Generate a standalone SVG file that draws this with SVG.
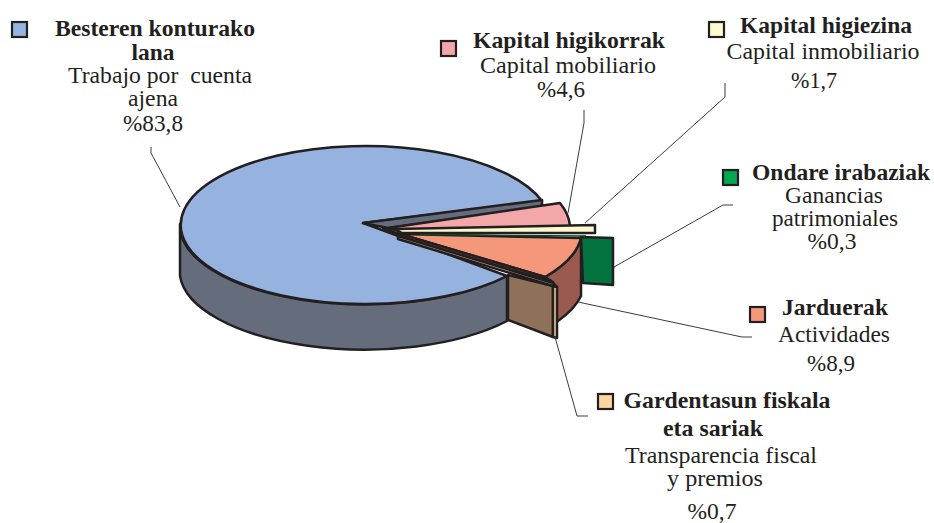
<svg xmlns="http://www.w3.org/2000/svg" width="934" height="523" viewBox="0 0 934 523">
<style>
.o{stroke:#231f20;stroke-width:2.5;stroke-linejoin:round}
.sq{stroke:#231f20;stroke-width:2.2}
.ld{fill:none;stroke:#3c3c3c;stroke-width:1}
text{font-family:"Liberation Serif","Times New Roman",serif;font-size:23px;fill:#231f20;text-anchor:middle}
.b{font-weight:bold}
</style>
<rect width="934" height="523" fill="#ffffff"/>
<g id="pie">
  <path id="blue-side" class="o" fill="#656d7c" d="M180 224 A185 79 0 0 0 507 276 L507 321 A185 79 0 0 1 180 276 Z"/>
  <path id="blue-top" class="o" fill="#95b3de" d="M363 223 L542 201 A185 79 0 1 0 507 276 Z"/>
  <path id="blue-cut" class="o" fill="#656d7c" d="M363 223 L542 200 L542 207 L388 228 Z"/>
  <path id="apex-bit" class="o" fill="#9a5a50" stroke-width="1.5" d="M383 228 L398 229 L398 234 Z"/>
  <path id="pink-top" class="o" fill="#f4a7a9" d="M388 228 L560 203 A185 79 0 0 1 570 226 L400 231 Z"/>
  <path id="salmon-side" class="o" fill="#9a5a50" d="M581 238 A185 79 0 0 1 545 277 L545 330 L558 321 A185 79 0 0 0 581 296 Z"/>
  <path id="salmon-top" class="o" fill="#f4977a" d="M400 234 L581 238 A185 79 0 0 1 545 277 Z"/>
  <path id="salmon-dark" class="o" fill="#7a4a40" stroke-width="1.5" d="M400 234 L545 277 L553 282 L398 237 Z"/>
  <path id="green-side" class="o" fill="#02723f" d="M581 237 L613 238 L613 285 L583 283 Z"/>
  <path id="cream-top" class="o" fill="#fdf9cf" d="M395 229 L595 225 L595 233 L402 233 Z"/>
  <line x1="420" y1="234.5" x2="586" y2="236" stroke="#0a4a2a" stroke-width="1.3"/>
  <path id="brown-side" class="o" fill="#8f7059" d="M508 275 L553 286 L553 337 L508 320 Z"/>
  <path id="brown-edge" class="o" fill="#f6cf9b" stroke-width="2" d="M553 286 L557 287 L557 338 L553 337 Z"/>
  <path id="brown-top" class="o" fill="#f6cf9b" stroke-width="1.6" d="M398 236 L553 283 L557 287 L553 286 L398 239 Z"/>
</g>
<g id="connectors">
  <polyline class="ld" points="151,147 151,153 180,207"/>
  <polyline class="ld" points="584,110 584,123 568,213"/>
  <polyline class="ld" points="725,83 725,97 585,223"/>
  <polyline class="ld" points="733,205 723,205 614,267"/>
  <polyline class="ld" points="578,302 742,337 752,337"/>
  <polyline class="ld" points="555,337 577,416 588,416"/>
</g>
<g id="label-besteren">
  <rect class="sq" x="12" y="22" width="15" height="15" fill="#95b3de"/>
  <text class="b" x="155" y="36" textLength="200" lengthAdjust="spacingAndGlyphs">Besteren konturako</text>
  <text class="b" x="153" y="60" textLength="43" lengthAdjust="spacingAndGlyphs">lana</text>
  <text x="160" y="83" textLength="184" lengthAdjust="spacingAndGlyphs" style="white-space:pre">Trabajo por  cuenta</text>
  <text x="153" y="106" textLength="50" lengthAdjust="spacingAndGlyphs">ajena</text>
  <text x="153" y="131" textLength="60" lengthAdjust="spacingAndGlyphs">%83,8</text>
</g>
<g id="label-higikorrak">
  <rect class="sq" x="441" y="41" width="15" height="15" fill="#f4a7a9"/>
  <text class="b" x="569" y="48" textLength="192" lengthAdjust="spacingAndGlyphs">Kapital higikorrak</text>
  <text x="568" y="73" textLength="176" lengthAdjust="spacingAndGlyphs">Capital mobiliario</text>
  <text x="561" y="97" textLength="48" lengthAdjust="spacingAndGlyphs">%4,6</text>
</g>
<g id="label-higiezina">
  <rect class="sq" x="709" y="22" width="15" height="15" fill="#fdf9cf"/>
  <text class="b" x="826" y="33" textLength="172" lengthAdjust="spacingAndGlyphs">Kapital higiezina</text>
  <text x="823" y="59" textLength="193" lengthAdjust="spacingAndGlyphs">Capital inmobiliario</text>
  <text x="814" y="88" textLength="46" lengthAdjust="spacingAndGlyphs">%1,7</text>
</g>
<g id="label-ondare">
  <rect class="sq" x="723" y="170" width="15" height="15" fill="#00a651"/>
  <text class="b" x="841" y="180" textLength="178" lengthAdjust="spacingAndGlyphs">Ondare irabaziak</text>
  <text x="834" y="203" textLength="98" lengthAdjust="spacingAndGlyphs">Ganancias</text>
  <text x="835" y="226" textLength="126" lengthAdjust="spacingAndGlyphs">patrimoniales</text>
  <text x="832" y="249" textLength="49" lengthAdjust="spacingAndGlyphs">%0,3</text>
</g>
<g id="label-jarduerak">
  <rect class="sq" x="750" y="307" width="15" height="15" fill="#f4977a"/>
  <text class="b" x="835" y="315" textLength="106" lengthAdjust="spacingAndGlyphs">Jarduerak</text>
  <text x="834" y="342" textLength="112" lengthAdjust="spacingAndGlyphs">Actividades</text>
  <text x="831" y="371" textLength="48" lengthAdjust="spacingAndGlyphs">%8,9</text>
</g>
<g id="label-gardentasun">
  <rect class="sq" x="598" y="394" width="15" height="15" fill="#fcd5a0"/>
  <text class="b" x="727" y="408" textLength="207" lengthAdjust="spacingAndGlyphs">Gardentasun fiskala</text>
  <text class="b" x="713" y="436" textLength="100" lengthAdjust="spacingAndGlyphs">eta sariak</text>
  <text x="721" y="463" textLength="192" lengthAdjust="spacingAndGlyphs">Transparencia fiscal</text>
  <text x="715" y="486" textLength="96" lengthAdjust="spacingAndGlyphs">y premios</text>
  <text x="712" y="519" textLength="49" lengthAdjust="spacingAndGlyphs">%0,7</text>
</g>
</svg>
